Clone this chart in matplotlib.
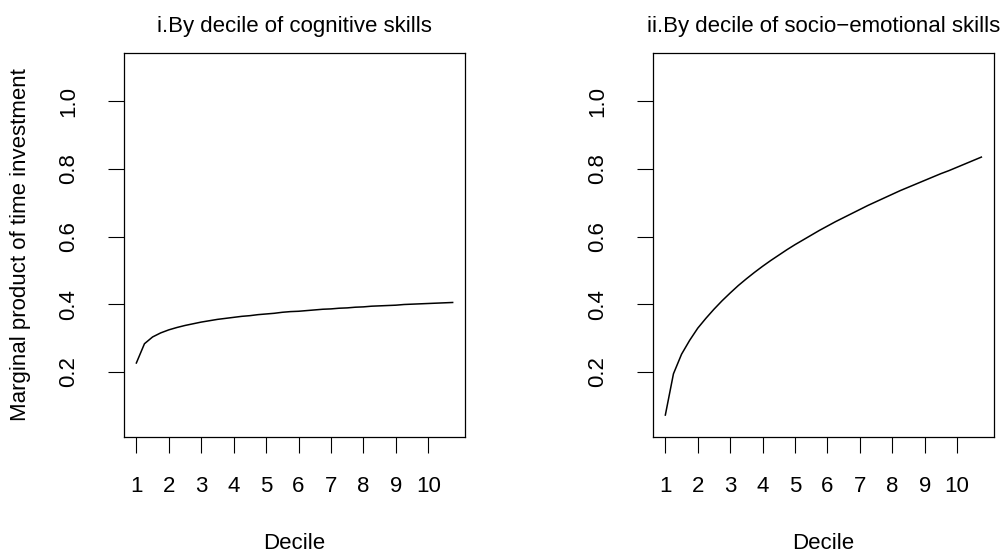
import matplotlib
matplotlib.use("Agg")
import matplotlib.pyplot as plt

# ---- data ----
decile_x = [1.0, 1.25, 1.5, 1.75, 2.0, 2.25, 2.5, 2.75, 3.0, 3.25,
            3.5, 3.75, 4.0, 4.25, 4.5, 4.75, 5.0, 5.25, 5.5, 5.75,
            6.0, 6.25, 6.5, 6.75, 7.0, 7.25, 7.5, 7.75, 8.0, 8.25,
            8.5, 8.75, 9.0, 9.25, 9.5, 9.75, 10.0, 10.25, 10.5, 10.75]

cognitive = [0.226, 0.283, 0.303, 0.315, 0.324, 0.331, 0.337, 0.342, 0.347, 0.351,
             0.355, 0.358, 0.361, 0.364, 0.366, 0.369, 0.371, 0.373, 0.376, 0.378,
             0.379, 0.381, 0.383, 0.385, 0.386, 0.388, 0.389, 0.391, 0.392, 0.394,
             0.395, 0.396, 0.397, 0.399, 0.400, 0.401, 0.402, 0.403, 0.404, 0.405]

socio_emotional = [0.072, 0.194, 0.252, 0.293, 0.329, 0.358, 0.385, 0.410, 0.433, 0.455,
                   0.475, 0.494, 0.512, 0.529, 0.545, 0.561, 0.576, 0.590, 0.604, 0.618,
                   0.631, 0.644, 0.656, 0.668, 0.680, 0.692, 0.703, 0.714, 0.725, 0.736,
                   0.746, 0.756, 0.766, 0.776, 0.786, 0.795, 0.805, 0.815, 0.825, 0.835]

x_ticks = [1, 2, 3, 4, 5, 6, 7, 8, 9, 10]
x_tick_labels = ["1", "2", "3", "4", "5", "6", "7", "8", "9", "10"]
y_ticks = [0.2, 0.4, 0.6, 0.8, 1.0]
y_tick_labels = ["0.2", "0.4", "0.6", "0.8", "1.0"]

titles = ["i.By decile of cognitive skills",
          "ii.By decile of socio\u2212emotional skills"]
x_label = "Decile"
y_label = "Marginal product of time investment"

# ---- style ----
plt.rcParams['font.family'] = ['Liberation Sans', 'DejaVu Sans']
FS = 16

fig = plt.figure(figsize=(10.08, 5.54), dpi=100)
W, H = 1008, 554

def make_ax(left_px, right_px, top_px, bottom_px):
    return fig.add_axes([left_px / W, 1 - bottom_px / H,
                         (right_px - left_px) / W, (bottom_px - top_px) / H])

axes = [make_ax(123.7, 465.3, 53.3, 436.7), make_ax(652.7, 994.0, 53.3, 436.7)]
series = [cognitive, socio_emotional]

for i, (ax, ys) in enumerate(zip(axes, series)):
    ax.plot(decile_x, ys, color='black', linewidth=1.1)
    ax.set_xlim(0.61, 11.14)
    ax.set_ylim(0.008, 1.142)
    ax.set_xticks(x_ticks)
    ax.set_xticklabels(x_tick_labels, fontsize=FS)
    ax.set_yticks(y_ticks)
    ax.set_yticklabels(y_tick_labels, fontsize=FS, rotation=90, va='center')
    ax.tick_params(axis='both', direction='out', length=11.5, width=0.8,
                   color='black')
    ax.tick_params(axis='x', pad=17)
    ax.tick_params(axis='y', pad=20.5)
    for sp in ax.spines.values():
        sp.set_linewidth(0.9)
        sp.set_color('black')
    ax.set_title(titles[i], fontsize=FS, pad=15.3)
    ax.set_xlabel(x_label, fontsize=FS, labelpad=25.5)
    if i == 0:
        ax.set_ylabel(y_label, fontsize=FS, labelpad=19.5)

fig.savefig("out.png", dpi=100)
